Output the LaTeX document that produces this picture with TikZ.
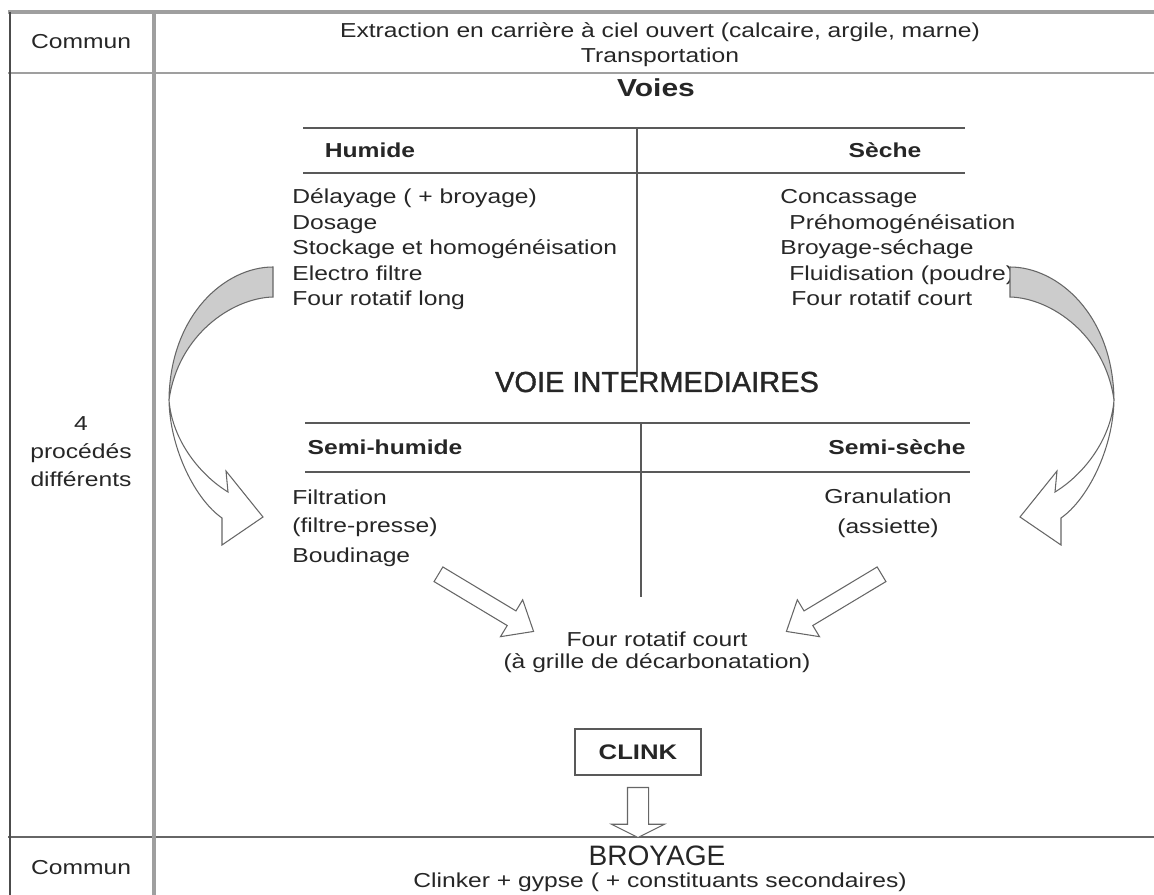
\documentclass[tikz,border=0pt]{standalone}
\usepackage{fontspec}
\setmainfont{Liberation Sans}[FakeStretch=1.22]
\newfontfamily\headfont{Liberation Sans}[FakeBold=1.2]
\newfontfamily\plainfont{Liberation Sans}
\usepackage[svgnames]{xcolor}
\usepackage{tikz}
\usetikzlibrary{shapes.arrows,positioning}

\begin{document}
\begin{tikzpicture}[x=0.02cm,y=-0.02cm]
\tikzset{
  txt/.style={inner sep=0pt, text=black!85, font=\fontsize{11.5}{13}\selectfont},
  lbl/.style={txt, font=\fontsize{11.5}{13}\selectfont\bfseries},
  grid/.style={draw=gray!75, line width=2pt},
  rule/.style={draw=black!65, line width=1.1pt},
  blockarrow/.style={single arrow, draw=black!60, fill=white, line width=0.6pt,
    single arrow head indent=0pt, minimum width=0pt},
}
\useasboundingbox (0,0) rectangle (1154,895);

% table frame
\draw[grid] (8,12) -- (1154,12);
\draw[grid, line width=1.6pt] (8,73) -- (1154,73);
\draw[grid, draw=black!60, line width=1.2pt] (8,837) -- (1154,837);
\draw[draw=black!70, line width=1.2pt] (10,12) -- (10,895);
\draw[grid, line width=2.8pt] (154,12) -- (154,895);

\node[txt] (commun1) at (81,42) {Commun};
\node[txt] (extraction) at (660,32) {Extraction en carrière à ciel ouvert (calcaire, argile, marne)};
\node[txt] (transport) at (660,57) {Transportation};
\node[txt, align=center, font=\fontsize{11.5}{16}\selectfont] (procedes) at (81,452) {4\\procédés\\différents};

\node[lbl, font=\fontsize{14}{16}\selectfont\bfseries] (voies) at (656,88) {Voies};

% voie humide / seche
\draw[rule] (303,128) -- (965,128) (303,173) -- (965,173);
\draw[rule] (637,128) -- (637,377);
\node[lbl] (humide) at (370,150) {Humide};
\node[lbl] (seche) at (885,150) {Sèche};
\foreach[count=\k] \t in {Délayage ( + broyage), Dosage, Stockage et homogénéisation, Electro filtre, Four rotatif long}
  \node[txt, anchor=base west] (hum\k) at (292,178.5+25.5*\k) {\t};
\foreach[count=\k] \dx/\t in {0/Concassage, 9/Préhomogénéisation, 0/Broyage-séchage, 9/Fluidisation (poudre), 11/Four rotatif court}
  \node[txt, anchor=base west] (sec\k) at (780+\dx,178.5+25.5*\k) {\t};

\node[txt, font=\headfont\fontsize{16.5}{18}\selectfont] (intermed) at (657,382) {VOIE INTERMEDIAIRES};

% voies intermediaires
\draw[rule] (305,423) -- (970,423) (305,472) -- (970,472);
\draw[rule] (641,423) -- (641,597);
\node[lbl] (semihum) at (385,447) {Semi-humide};
\node[lbl] (semisec) at (897,447) {Semi-sèche};
\foreach[count=\k] \t in {Filtration, {(filtre-presse)}, Boudinage}
  \node[txt, anchor=base west] (semh\k) at (292,475+29*\k) {\t};
\node[txt, align=center, font=\fontsize{11.5}{17}\selectfont] (granul) at (888,513) {Granulation\\(assiette)};

\node[txt, align=center, font=\fontsize{11.5}{12.5}\selectfont] (four) at (657,652) {Four rotatif court\\(à grille de décarbonatation)};

\node[lbl, draw=black!65, line width=1.1pt, minimum width=2.52cm, minimum height=0.92cm,
  font=\fontsize{12}{14}\selectfont\bfseries] (clink) at (638,752) {CLINK};
\node[blockarrow, rotate=-90, below=0.22cm of clink.south, anchor=tail, minimum height=1cm,
  inner sep=0.2cm, single arrow head extend=0.32cm, single arrow tip angle=127] (down) {};

\node[txt, font=\plainfont\fontsize{16}{18}\selectfont] (broyage) at (657,856) {BROYAGE};
\node[txt] (clinker) at (660,882) {Clinker + gypse ( + constituants secondaires)};
\node[txt] (commun2) at (81,868) {Commun};

% fleches
\foreach \s/\ang [count=\k] in {438/-31, 882/-149}
  \node[blockarrow, rotate=\ang, anchor=tail, minimum height=2.22cm, inner sep=0.16cm,
    single arrow head extend=0.26cm, single arrow tip angle=80] (diag\k) at (\s,574) {};

\foreach \side in {1,-1} {
  \begin{scope}[shift={(641.5,0)}, xscale=\side]
    \draw[draw=black!60, line width=0.6pt, fill=gray!40] (-368.5,267)
      .. controls (-416.5,267) and (-471.5,315) .. (-472.5,400)
      .. controls (-463.5,335) and (-409.5,298) .. (-368.5,297) -- cycle;
    \draw[draw=black!60, line width=0.6pt, fill=white] (-472.5,400)
      .. controls (-471.5,450) and (-445.5,500) .. (-419.5,518)
      -- (-419.5,545) -- (-378.5,517) -- (-415.5,471) -- (-413.5,492)
      .. controls (-441.5,475) and (-469.5,440) .. (-472.5,400) -- cycle;
  \end{scope}
}
\end{tikzpicture}
\end{document}
